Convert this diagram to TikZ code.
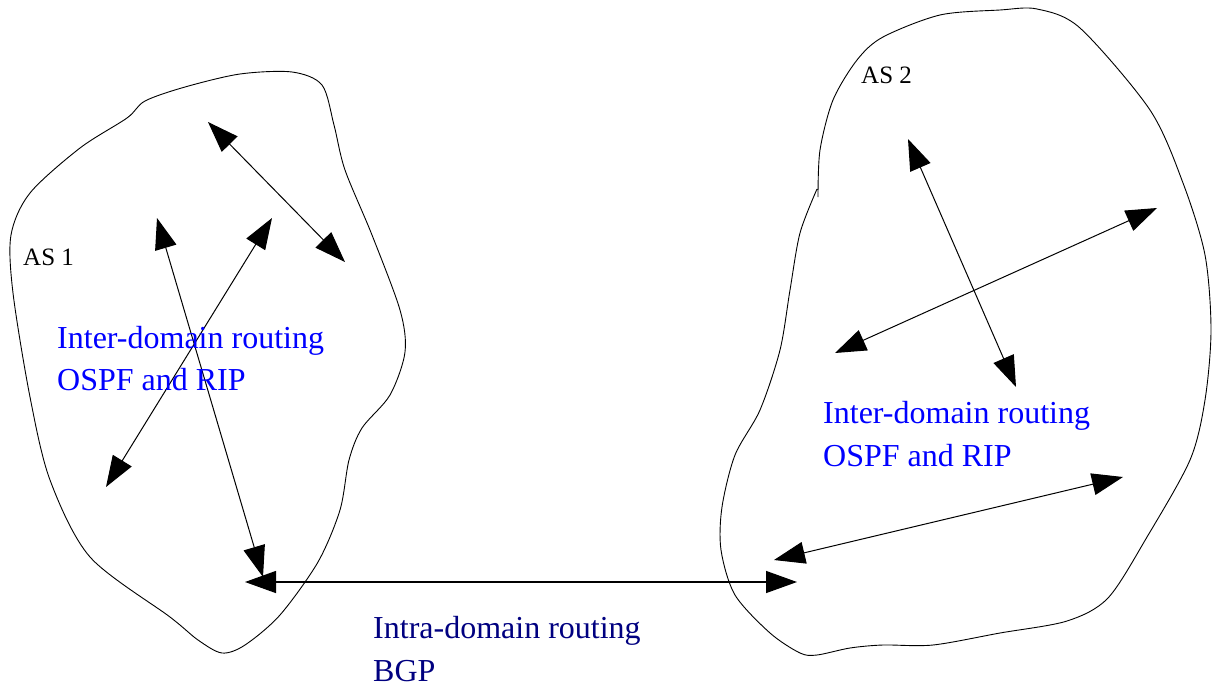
\documentclass[tikz,border=0pt]{standalone}
\usepackage{fontspec}
\setmainfont{Liberation Serif}
\usetikzlibrary{arrows.meta}
\definecolor{interblue}{RGB}{0,0,255}
\definecolor{intranavy}{RGB}{0,0,128}
\tikzset{
  blob/.style={draw=black, line width=0.9pt},
  link/.style={draw=black, line width=1pt, {Triangle[length=31pt,width=22pt]}-{Triangle[length=31pt,width=22pt]}},
  bgplink/.style={link, line width=1.4pt},
  aslabel/.style={anchor=base west, inner sep=0pt, font=\fontsize{25}{30}\selectfont},
  bluelabel/.style={anchor=base west, inner sep=0pt, text=interblue, font=\fontsize{32}{42}\selectfont},
  navylabel/.style={anchor=base west, inner sep=0pt, text=intranavy, font=\fontsize{32}{42}\selectfont}
}
\begin{document}
\begin{tikzpicture}[x=1pt,y=-1pt]
\useasboundingbox (0,0) rectangle (1212,685);
% AS 1 outline
\draw[blob] plot[smooth cycle, tension=0.5] coordinates {
 (145,101) (185,87) (240,74) (292,72) (322,85) (334,125) (345,170) (372,235)
 (400,310) (405,352) (390,395) (362,428) (349,460) (340,510) (318,562)
 (280,615) (245,645) (222,653) (198,640) (170,617) (90,557) (50,480)
 (30,397) (13,293) (11,235) (30,193) (80,148) (127,118)};
% AS 2 outline
\draw[blob] plot[smooth, tension=0.5] coordinates {
 (817,189) (800,233) (790,290) (780,350) (760,410) (735,455) (722,507)
 (721,550) (735,595) (770,633) (800,653) (817,655) (850,648) (883,645)
 (933,645) (1000,633) (1067,621) (1108,598) (1147,537) (1190,460)
 (1205,400) (1211,330) (1205,255) (1183,183) (1150,110) (1080,28) (1037,9)
 (1000,10) (940,15) (883,37) (857,60) (833,100) (820,150) (818,197)};
% arrow end points
\coordinate (a1) at (208,122); \coordinate (a2) at (345,262);
\coordinate (b1) at (157,218); \coordinate (b2) at (263,577);
\coordinate (c1) at (272,218); \coordinate (c2) at (106,487);
\coordinate (g1) at (245,582); \coordinate (g2) at (797,582);
\coordinate (d1) at (908,139); \coordinate (d2) at (1016,387);
\coordinate (e1) at (1157,208); \coordinate (e2) at (835,353);
\coordinate (f1) at (1123,477); \coordinate (f2) at (774,560);
\draw[link] (a1) -- (a2);
\draw[link] (b1) -- (b2);
\draw[link] (c1) -- (c2);
\draw[bgplink] (g1) -- (g2);
\draw[link] (d1) -- (d2);
\draw[link] (e1) -- (e2);
\draw[link] (f1) -- (f2);
% labels
\node[aslabel] (as1) at (23,265) {AS 1};
\node[aslabel] (as2) at (861,83) {AS 2};
\node[bluelabel] (l1) at (57,348) {Inter-domain routing};
\node[bluelabel] (l2) at (57,390) {OSPF and RIP};
\node[bluelabel] (r1) at (823,423) {Inter-domain routing};
\node[bluelabel] (r2) at (823,466) {OSPF and RIP};
\node[navylabel] (m1) at (373,638) {Intra-domain routing};
\node[navylabel] (m2) at (373,681) {BGP};
\end{tikzpicture}
\end{document}
